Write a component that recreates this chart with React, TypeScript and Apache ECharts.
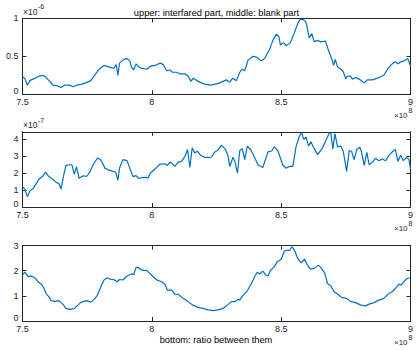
import React, { useEffect, useRef } from "react";
import * as echarts from "echarts";

// Frequency axis in units of 1e8
const upperFreq = [7.500,7.509,7.519,7.528,7.541,7.554,7.566,7.579,7.592,7.605,7.617,7.636,7.649,7.662,7.681,7.696,7.709,7.726,7.745,7.764,7.783,7.796,7.815,7.834,7.853,7.862,7.869,7.875,7.892,7.904,7.915,7.921,7.930,7.939,7.949,7.962,7.981,7.994,8.013,8.032,8.045,8.057,8.070,8.079,8.096,8.108,8.128,8.140,8.151,8.159,8.179,8.198,8.224,8.256,8.288,8.301,8.312,8.327,8.340,8.349,8.359,8.372,8.391,8.404,8.423,8.436,8.455,8.468,8.481,8.491,8.497,8.509,8.519,8.536,8.551,8.564,8.574,8.587,8.596,8.609,8.618,8.628,8.638,8.654,8.671,8.682,8.692,8.703,8.709,8.718,8.731,8.740,8.750,8.756,8.767,8.776,8.788,8.801,8.821,8.833,8.853,8.878,8.897,8.913,8.929,8.942,8.951,8.964,8.977,8.990,9.000];
// upper: interfared part, units of 1e-6
const upperValues = [0.23,0.21,0.12,0.18,0.20,0.22,0.24,0.25,0.22,0.17,0.12,0.11,0.09,0.12,0.12,0.10,0.12,0.13,0.15,0.18,0.27,0.33,0.38,0.36,0.34,0.39,0.25,0.41,0.46,0.47,0.44,0.36,0.32,0.40,0.36,0.34,0.33,0.37,0.38,0.41,0.39,0.31,0.32,0.29,0.29,0.27,0.27,0.24,0.17,0.21,0.17,0.14,0.12,0.14,0.19,0.16,0.21,0.18,0.29,0.33,0.31,0.45,0.50,0.49,0.44,0.47,0.59,0.71,0.79,0.76,0.65,0.68,0.64,0.68,0.81,0.93,0.99,0.98,0.95,0.74,0.80,0.69,0.71,0.69,0.70,0.59,0.50,0.38,0.46,0.36,0.33,0.30,0.20,0.24,0.24,0.20,0.22,0.20,0.15,0.19,0.19,0.22,0.25,0.34,0.40,0.43,0.40,0.43,0.44,0.47,0.37];

const blankFreq = [7.500,7.509,7.519,7.528,7.541,7.554,7.564,7.577,7.589,7.602,7.617,7.630,7.640,7.649,7.658,7.668,7.684,7.691,7.700,7.709,7.719,7.732,7.749,7.760,7.773,7.790,7.802,7.819,7.834,7.853,7.860,7.869,7.875,7.888,7.904,7.915,7.927,7.939,7.949,7.962,7.977,7.985,7.994,8.013,8.032,8.051,8.060,8.070,8.079,8.089,8.102,8.115,8.128,8.138,8.147,8.156,8.166,8.176,8.189,8.204,8.217,8.231,8.244,8.256,8.269,8.285,8.295,8.301,8.314,8.321,8.331,8.340,8.350,8.359,8.369,8.382,8.397,8.410,8.429,8.449,8.462,8.474,8.487,8.506,8.519,8.532,8.545,8.558,8.571,8.579,8.587,8.596,8.606,8.615,8.626,8.641,8.660,8.673,8.686,8.692,8.700,8.708,8.718,8.731,8.740,8.753,8.763,8.772,8.782,8.792,8.804,8.810,8.821,8.831,8.840,8.853,8.865,8.878,8.891,8.904,8.917,8.929,8.942,8.951,8.962,8.972,8.985,8.994,9.000];
// middle: blank part, units of 1e-7
const blankValues = [1.20,1.06,0.60,0.94,1.10,1.40,1.66,1.80,2.06,1.80,1.64,1.46,1.40,1.06,1.80,2.46,2.50,2.50,1.94,2.38,1.70,1.84,1.82,2.06,2.50,2.90,2.80,2.30,2.18,2.10,2.06,1.58,2.30,2.80,2.74,2.30,1.80,1.86,1.70,1.74,1.76,1.70,2.00,2.26,2.54,2.56,2.46,2.66,2.56,2.40,2.66,2.70,3.00,3.40,2.34,3.50,3.20,3.30,3.06,2.94,2.94,2.96,3.26,3.38,3.66,3.40,3.00,2.40,2.94,2.70,2.00,3.34,3.44,2.80,3.60,3.40,2.94,2.50,2.34,3.26,3.30,3.56,3.34,2.50,2.30,2.40,2.40,3.60,4.20,4.42,4.00,4.14,3.60,3.86,3.50,3.10,3.50,3.94,4.38,4.38,3.44,4.34,3.56,3.60,3.30,2.10,3.34,3.30,2.80,3.40,3.54,3.30,2.46,3.24,2.50,2.66,2.88,2.74,2.84,2.74,3.06,3.26,3.40,2.70,3.06,2.74,2.94,2.80,2.26];

const ratioFreq = [7.500,7.509,7.522,7.534,7.547,7.560,7.573,7.582,7.592,7.602,7.611,7.624,7.640,7.656,7.668,7.681,7.700,7.713,7.726,7.747,7.764,7.777,7.790,7.802,7.815,7.828,7.841,7.853,7.866,7.875,7.888,7.904,7.921,7.930,7.939,7.949,7.962,7.981,7.994,8.006,8.019,8.038,8.051,8.060,8.077,8.089,8.102,8.121,8.140,8.159,8.179,8.198,8.217,8.237,8.256,8.276,8.295,8.308,8.323,8.333,8.340,8.353,8.369,8.385,8.397,8.408,8.417,8.429,8.440,8.449,8.459,8.472,8.485,8.500,8.513,8.526,8.532,8.542,8.551,8.562,8.577,8.590,8.600,8.613,8.628,8.644,8.656,8.669,8.679,8.692,8.705,8.718,8.733,8.750,8.769,8.788,8.808,8.827,8.840,8.859,8.878,8.897,8.917,8.929,8.942,8.955,8.964,8.974,8.987,9.000];
// bottom: ratio between them
const ratioValues = [1.83,1.94,1.76,1.79,1.73,1.56,1.46,1.32,1.07,0.97,0.81,0.78,0.81,0.67,0.50,0.46,0.49,0.62,0.74,0.81,0.75,0.86,1.03,1.34,1.63,1.72,1.65,1.65,1.56,1.65,1.63,1.79,1.87,1.85,2.13,2.12,2.02,2.00,1.87,1.76,1.63,1.56,1.46,1.23,1.23,1.07,1.06,0.90,0.77,0.63,0.54,0.50,0.44,0.41,0.44,0.50,0.66,0.77,0.77,0.86,0.83,1.03,1.20,1.49,1.76,1.94,1.87,1.98,1.83,1.79,2.02,2.13,2.35,2.45,2.79,2.82,2.79,2.95,2.82,2.53,2.31,2.46,2.25,2.06,2.09,2.22,2.09,1.89,1.49,1.39,1.16,1.07,0.94,0.91,0.77,0.73,0.63,0.60,0.67,0.73,0.83,0.90,1.10,1.16,1.30,1.47,1.43,1.56,1.69,1.72];

const xTicks = { min: 7.5, max: 9, interval: 0.5 };
const yRanges = [
  { min: 0, max: 1, interval: 0.5 },
  { min: 0, max: 4.45, interval: 1 },
  { min: 0, max: 3, interval: 1 },
];
const titleText = "upper: interfared part, middle: blank part";
const xLabelText = "bottom: ratio between them";
const yExponents = ["-6", "-7", ""];
const xExponent = "8";

const FONT = "'Liberation Sans', Arial, Helvetica, sans-serif";
const AX = "#262626";
const LINE = "#0072BD";

export default function App() {
  const ref = useRef<HTMLDivElement>(null);
  useEffect(() => {
    if (!ref.current) return;
    const chart = echarts.init(ref.current, undefined, { renderer: "svg" });
    const grids = [
      { left: 22.5, top: 18.3, width: 391, height: 76 },
      { left: 22.5, top: 131.8, width: 391, height: 75.2 },
      { left: 22.5, top: 245.5, width: 391, height: 75.5 },
    ];
    const lineStyle = { color: AX, width: 1 };
    const xAxis: any[] = [];
    const yAxis: any[] = [];
    grids.forEach((_, i) => {
      xAxis.push({
        type: "value", gridIndex: i, position: "bottom", ...xTicks,
        axisLine: { show: true, onZero: false, lineStyle },
        axisTick: { show: true, inside: true, length: 4, lineStyle },
        splitLine: { show: false },
        axisLabel: { show: true, margin: 3, fontSize: 9, color: AX, fontFamily: FONT },
      });
      xAxis.push({
        type: "value", gridIndex: i, position: "top", ...xTicks,
        axisLine: { show: true, onZero: false, lineStyle },
        axisTick: { show: true, inside: true, length: 4, lineStyle },
        splitLine: { show: false },
        axisLabel: { show: false },
      });
      yAxis.push({
        type: "value", gridIndex: i, position: "left", ...yRanges[i],
        axisLine: { show: true, onZero: false, lineStyle },
        axisTick: { show: true, inside: true, length: 4, lineStyle },
        splitLine: { show: false },
        axisLabel: {
          show: true, margin: 4, fontSize: 9, color: AX, fontFamily: FONT,
          showMaxLabel: i !== 1,
          formatter: (v: number) => (v === 0 ? "{z|0}" : String(v)),
          rich: { z: { fontSize: 9, color: AX, fontFamily: FONT, padding: [0, 0, 6, 0] } },
        },
      });
      yAxis.push({
        type: "value", gridIndex: i, position: "right", ...yRanges[i],
        axisLine: { show: true, onZero: false, lineStyle },
        axisTick: { show: true, inside: true, length: 4, lineStyle },
        splitLine: { show: false },
        axisLabel: { show: false },
      });
    });
    const datasets = [
      upperFreq.map((f, k) => [f, upperValues[k]]),
      blankFreq.map((f, k) => [f, blankValues[k]]),
      ratioFreq.map((f, k) => [f, ratioValues[k]]),
    ];
    const series = datasets.map((d, i) => ({
      type: "line", xAxisIndex: i * 2, yAxisIndex: i * 2, data: d,
      showSymbol: false, symbol: "none", clip: true,
      lineStyle: { color: LINE, width: 1.2 },
    }));
    const graphic: any[] = [];
    grids.forEach((g, i) => {
      if (yExponents[i]) {
        graphic.push({ type: "text", left: 23, top: g.top - 11, style: { text: "×10", fontSize: 8.5, fill: AX, fontFamily: FONT } });
        graphic.push({ type: "text", left: 38, top: g.top - 15, style: { text: yExponents[i], fontSize: 7, fill: AX, fontFamily: FONT } });
      }
      const b = g.top + g.height;
      graphic.push({ type: "text", left: 394, top: b + 17, style: { text: "×10", fontSize: 8, fill: AX, fontFamily: FONT } });
      graphic.push({ type: "text", left: 408.5, top: b + 13, style: { text: xExponent, fontSize: 7, fill: AX, fontFamily: FONT } });
    });
    graphic.push({ type: "text", x: 216.5, y: 12.5, style: { text: titleText, fontSize: 9.3, fill: "#000", fontFamily: FONT, align: "center", verticalAlign: "middle" } });
    graphic.push({ type: "text", x: 216, y: 339.5, style: { text: xLabelText, fontSize: 9.3, fill: "#000", fontFamily: FONT, align: "center", verticalAlign: "middle" } });

    chart.setOption({
      animation: false,
      backgroundColor: "#fff",
      grid: grids,
      xAxis,
      yAxis,
      series,
      graphic,
    });
    return () => chart.dispose();
  }, []);
  return <div ref={ref} style={{ position: "fixed", left: 0, top: 0, width: 416, height: 350 }} />;
}
